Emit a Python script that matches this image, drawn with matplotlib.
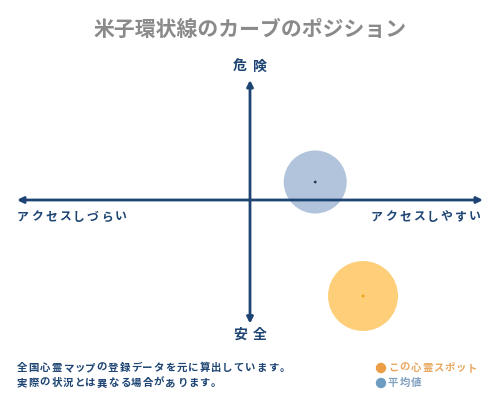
import matplotlib
matplotlib.use('Agg')
import matplotlib.pyplot as plt
from matplotlib.patches import Ellipse

plt.rcParams['font.family'] = ['Noto Sans CJK JP', 'DejaVu Sans']

# position values: x = access (left hard -> right easy), y = danger (bottom safe -> top dangerous)
names = ['この心霊スポット', '平均値']
access = [0.485, 0.28]
danger = [-0.80, 0.15]
sizes = [2540, 2060]
fills = ['#fecf78', '#b1c4dc']
dots = ['#f2a007', '#1c2f4a']
legend_colors = ['#eb9e45', '#6f9cc2']
legend_text_colors = ['#e9a860', '#7fa0c0']

navy = '#1d4473'

fig = plt.figure(figsize=(5, 4), dpi=100)
ax = fig.add_axes([17 / 500, 80 / 400, 466 / 500, 240 / 400])
ax.set_xlim(-1, 1)
ax.set_ylim(-1, 1)
ax.axis('off')

# circles
for x, y, s, c, d in zip(access, danger, sizes, fills, dots):
    ax.scatter(x, y, s=s, color=c, edgecolors='none', zorder=1, clip_on=False)
    ax.scatter(x, y, s=3, color=d, marker='D', edgecolors='none', zorder=3, clip_on=False)

# axes arrows
arrow = dict(arrowstyle='<|-|>', color=navy, lw=2, mutation_scale=9,
             shrinkA=0, shrinkB=0)
ax.annotate('', xy=(-1, 0), xytext=(1, 0), arrowprops=arrow, zorder=2)
ax.annotate('', xy=(0, 1), xytext=(0, -1.03), arrowprops=arrow, zorder=2)


def spaced(x, y, s, step, **kw):
    # draw characters one by one in figure pixels (from top-left)
    for i, ch in enumerate(s):
        fig.text((x + i * step) / 500, 1 - y / 400, ch, ha='left', va='center', **kw)


fig.text(0.5, 1 - 29 / 400, '米子環状線のカーブのポジション', ha='center', va='center',
         fontsize=15, color='#8a8a8a', fontweight='bold')

spaced(233, 67, '危険', 20, fontsize=10, color=navy, fontweight='bold')
spaced(233, 335, '安全', 20, fontsize=10, color=navy, fontweight='bold')
spaced(17, 217, 'アクセスしづらい', 14, fontsize=8.5, color=navy, fontweight='bold')
spaced(371, 217, 'アクセスしやすい', 14, fontsize=8.5, color=navy, fontweight='bold')

spaced(17, 368, '全国心霊マップの登録データを元に算出しています。', 11.4,
       fontsize=7.5, color=navy, fontweight='bold')
spaced(17, 383, '実際の状況とは異なる場合があります。', 11.4,
       fontsize=7.5, color=navy, fontweight='bold')

for i, (n, lc, tc) in enumerate(zip(names, legend_colors, legend_text_colors)):
    yy = 368 + i * 15
    fig.add_artist(Ellipse((381 / 500, 1 - yy / 400), 9 / 500, 9 / 400,
                           transform=fig.transFigure, color=lc))
    spaced(388, yy, n, 11.3, fontsize=7.5, color=tc, fontweight='bold')

fig.savefig('out.png', dpi=100, facecolor='white')
